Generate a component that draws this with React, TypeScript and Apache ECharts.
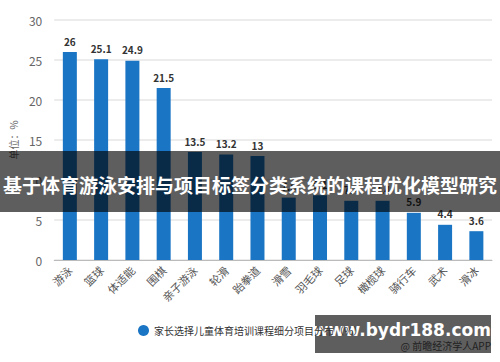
import React, { useEffect, useRef } from "react";
import * as echarts from "echarts";

const categories = ["游泳", "篮球", "体适能", "围棋", "亲子游泳", "轮滑", "跆拳道", "滑雪", "羽毛球", "足球", "橄榄球", "骑行车", "武术", "滑冰"];
const values = [26, 25.1, 24.9, 21.5, 13.5, 13.2, 13, 7.8, 8.1, 7.4, 7.4, 5.9, 4.4, 3.6];
const seriesName = "家长选择儿童体育培训课程细分项目分布（%）";
const yAxisName = "单位：%";
const overlayTitle = "基于体育游泳安排与项目标签分类系统的课程优化模型研究";
const siteText = "www.bydr188.com";
const sourceText = "@ 前瞻经济学人APP";

const FONT = "'Noto Sans CJK SC', 'Noto Sans', sans-serif";

export default function App() {
  const ref = useRef<HTMLDivElement>(null);
  useEffect(() => {
    document.body.style.margin = "0";
    const chart = echarts.init(ref.current!, null, { renderer: "svg" });
    chart.setOption({
      animation: false,
      backgroundColor: "#ffffff",
      textStyle: { fontFamily: FONT },
      grid: { left: 49, right: 8, top: 20, bottom: 102 },
      legend: {
        left: 133,
        top: 320,
        z: 120,
        icon: "circle",
        itemWidth: 11,
        itemHeight: 11,
        itemGap: 6,
        textStyle: { fontSize: 10, color: "#333", fontFamily: FONT },
        data: [seriesName],
      },
      xAxis: {
        type: "category",
        data: categories,
        axisLine: { lineStyle: { color: "#bbbbbb" } },
        axisTick: { alignWithLabel: true, length: 5, lineStyle: { color: "#bbbbbb" } },
        axisLabel: { rotate: 45, fontSize: 11, color: "#555", interval: 0, margin: 8, fontFamily: FONT },
      },
      yAxis: {
        type: "value",
        min: 0,
        max: 30,
        interval: 5,
        name: yAxisName,
        nameLocation: "middle",
        nameRotate: 90,
        nameGap: 36,
        nameTextStyle: { fontSize: 10, color: "#666", fontFamily: FONT },
        axisLine: { show: false },
        axisTick: { show: false },
        axisLabel: { fontSize: 12, color: "#666", margin: 12, fontFamily: FONT },
        splitLine: { lineStyle: { color: "#e6e6e6", width: 1.5 } },
      },
      series: [
        {
          name: seriesName,
          type: "bar",
          data: values,
          barWidth: 14,
          itemStyle: { color: "#1a75c4" },
          label: {
            show: true,
            position: "top",
            distance: 6,
            fontSize: 10,
            fontWeight: "bold",
            color: "#333",
            fontFamily: FONT,
          },
        },
      ],
      graphic: [
        {
          type: "rect",
          z: 100,
          shape: { x: 0, y: 151, width: 500, height: 61 },
          style: { fill: "rgba(0,0,0,0.63)" },
        },
        {
          type: "text",
          z: 101,
          x: 250,
          y: 184,
          style: {
            text: overlayTitle,
            fill: "#ffffff",
            fontSize: 19,
            fontWeight: "bold",
            fontFamily: FONT,
            align: "center",
            verticalAlign: "middle",
          },
        },
        {
          type: "rect",
          z: 100,
          shape: { x: 315, y: 315, width: 176, height: 38 },
          style: { fill: "rgba(0,0,0,0.63)" },
        },
        {
          type: "text",
          z: 101,
          x: 402,
          y: 330,
          style: {
            text: siteText,
            fill: "#ffffff",
            fontSize: 17,
            fontWeight: "bold",
            fontFamily: "'DejaVu Sans', sans-serif",
            align: "center",
            verticalAlign: "middle",
          },
        },
        {
          type: "text",
          z: 101,
          x: 491,
          y: 345,
          style: {
            text: sourceText,
            fill: "#1e1e1e",
            fontSize: 10,
            fontFamily: FONT,
            align: "right",
            verticalAlign: "middle",
          },
        },
      ],
    });
    return () => chart.dispose();
  }, []);
  return <div ref={ref} style={{ width: 500, height: 362 }} />;
}
